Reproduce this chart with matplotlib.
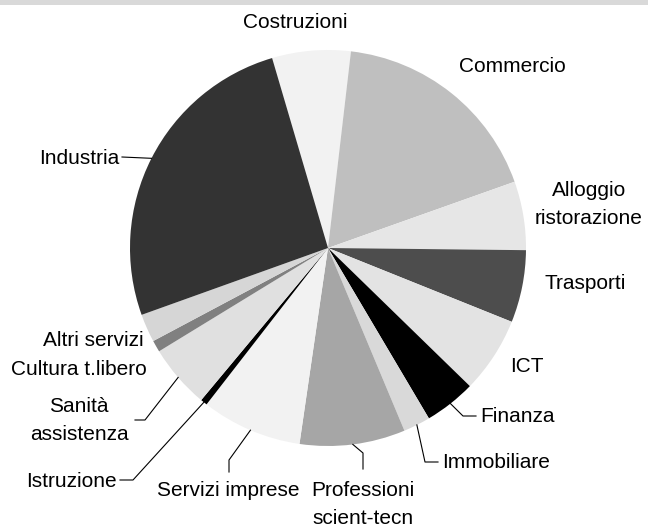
import matplotlib.pyplot as plt
from matplotlib.patches import Rectangle
import numpy as np

# settori in senso orario a partire dall'alto
settori = ["Costruzioni", "Commercio", "Alloggio\nristorazione", "Trasporti", "ICT",
           "Finanza", "Immobiliare", "Professioni\nscient-tecn", "Servizi imprese",
           "Istruzione", "Sanità\nassistenza", "Cultura t.libero", "Altri servizi",
           "Industria"]
quote = [6.4, 17.7, 5.6, 5.9, 6.2, 4.2, 2.2, 8.6, 8.2, 0.55, 5.2, 0.95, 2.3, 25.9]
colori = ["#f2f2f2", "#bfbfbf", "#e6e6e6", "#4d4d4d", "#e3e3e3", "#000000", "#d9d9d9",
          "#a6a6a6", "#f2f2f2", "#000000", "#e0e0e0", "#808080", "#d6d6d6", "#333333"]

W, H = 648, 527
# posizione etichette in pixel: (x, baseline prima riga, allineamento)
pos_etich = [(295, 28, "center"), (512, 72, "center"), (589, 196.5, "center"),
             (585, 289, "center"), (527, 372, "center"), (480, 421.5, "left"),
             (442, 468, "left"), (363, 495.5, "center"), (228, 496.5, "center"),
             (117, 487, "right"), (79, 412.5, "center"), (147, 375, "right"),
             (144, 346.5, "right"), (119, 164, "right")]
# linee guida: punto di gomito e punto finale (None = nessuna linea)
guide = [None, None, None, None, None,
         [(463, 416), (476, 416)], [(425, 462), (438, 462)],
         [(363, 453), (363, 469)], [(229, 460), (229, 472)],
         [(133, 480), (120, 480)], [(145, 420), (135, 420)], None, None,
         [(122, 157), (122, 157)]]

plt.rcParams['font.family'] = ['Liberation Sans', 'DejaVu Sans']

fig = plt.figure(figsize=(6.48, 5.27), dpi=100)
ax = fig.add_axes([0, 0, 1, 1])

cx, cy, r = 328, H - 248, 198
wedges, _ = ax.pie(quote, colors=colori, startangle=106.4, counterclock=False,
                   center=(cx, cy), radius=r, wedgeprops=dict(linewidth=0))
ax.set_xlim(0, W)
ax.set_ylim(0, H)
ax.axis('off')

for w, lab, (x, y, ha), g in zip(wedges, settori, pos_etich, guide):
    for i, riga in enumerate(lab.split("\n")):
        ax.text(x, H - (y + i * 28), riga, ha=ha, va='baseline', fontsize=15)
    if g is not None:
        m = np.radians((w.theta1 + w.theta2) / 2)
        xs = [cx + r * np.cos(m), g[0][0], g[1][0]]
        ys = [cy + r * np.sin(m), H - g[0][1], H - g[1][1]]
        ax.plot(xs, ys, color="black", lw=0.8)

# banda grigia in alto
fig.add_artist(Rectangle((0, 1 - 5 / H), 1, 5 / H, transform=fig.transFigure,
                         color="#d9d9d9", lw=0))

fig.savefig("out.png", dpi=100)
